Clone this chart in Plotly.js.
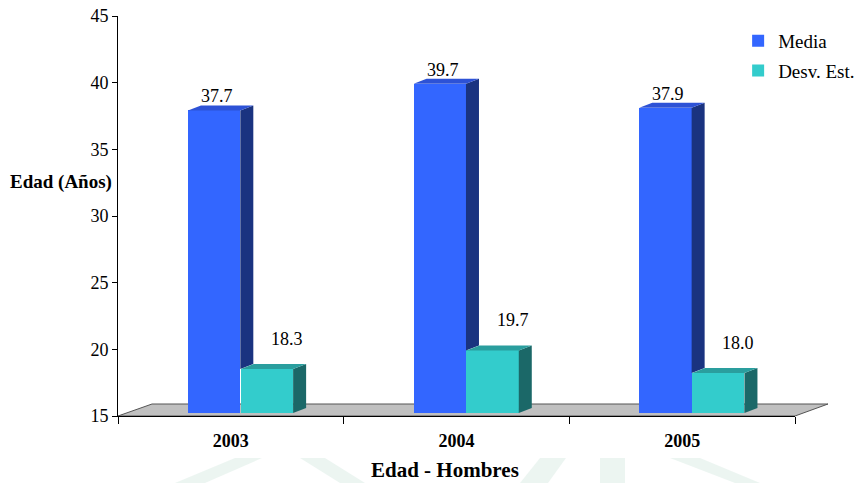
<!DOCTYPE html>
<html>
<head>
<meta charset="utf-8">
<script src="https://cdn.plot.ly/plotly-3.0.1.min.js"></script>
<style>html,body{margin:0;padding:0;background:#fff;}#chart{width:856px;height:483px;}</style>
</head>
<body>
<div id="chart"></div>
<script>
// ---- data ----
const years = ['2003', '2004', '2005'];
const media = [37.7, 39.7, 37.9];
const desvEst = [18.3, 19.7, 18.0];
const seriesNames = ['Media', 'Desv. Est.'];
const yTicks = [15, 20, 25, 30, 35, 40, 45];

// ---- style / geometry constants ----
const FONT = '"Times New Roman", "Liberation Serif", Times, serif';
const Y0 = 15;              // axis floor value
const LIFT = 0.22;          // bars stand slightly inside the floor
const BAR_W = 0.232;        // bar width (category units)
const OFF = [-0.19, 0.044]; // left edge offsets for each series
const DX = 0.0576;          // 3D depth in x (category units)
const DY = 0.375;           // 3D depth in y (value units)
const FRONT = ['#3366FF', '#33CCCC'];
const SIDE = ['#1A3380', '#1B6868'];
const TOP = ['#2D52D6', '#2A9E9E'];

const xs = years.map((_, i) => i);
const series = [media, desvEst];
const traces = [];

// front faces as bars
series.forEach((vals, s) => {
  traces.push({
    type: 'bar', name: seriesNames[s], x: xs,
    y: vals.map(v => v - Y0), base: vals.map(() => Y0 + LIFT),
    width: BAR_W, offset: OFF[s],
    marker: {color: FRONT[s], line: {width: 0}},
    legendgroup: 'g' + s, hoverinfo: 'skip'
  });
});

// 3D side + top faces derived from the data
function poly(px, py, color) {
  return {type: 'scatter', mode: 'lines', x: px, y: py, fill: 'toself',
    fillcolor: color, line: {width: 0, color: color}, showlegend: false, hoverinfo: 'skip'};
}
xs.forEach(i => {
  series.forEach((vals, s) => {
    const xl = i + OFF[s], xr = xl + BAR_W;
    const t = vals[i] + LIFT;
    const b = s === 0 ? desvEst[i] + LIFT : Y0 + LIFT;
    traces.push(poly([xr, xr + DX, xr + DX, xr, xr], [b, b + DY, t + DY, t, b], SIDE[s]));
    traces.push(poly([xl, xl + DX, xr + DX, xr, xl], [t, t + DY, t + DY, t, t], TOP[s]));
  });
});

// value labels
const annotations = [];
xs.forEach(i => {
  annotations.push({x: i + OFF[0] + BAR_W / 2, y: media[i] + LIFT, xref: 'x', yref: 'y',
    text: media[i].toFixed(1), showarrow: false, yanchor: 'bottom', yshift: 2, xshift: 3,
    font: {family: FONT, size: 18, color: '#000'}});
  annotations.push({x: i + OFF[1] + BAR_W / 2, y: desvEst[i] + LIFT, xref: 'x', yref: 'y',
    text: desvEst[i].toFixed(1), showarrow: false, yanchor: 'bottom', yshift: 18, xshift: 20,
    font: {family: FONT, size: 18, color: '#000'}});
});
annotations.push({text: '<b>Edad (Años)</b>', xref: 'paper', yref: 'paper', x: -0.0842, y: 0.585,
  xanchor: 'center', yanchor: 'middle',
  showarrow: false, font: {family: FONT, size: 19, color: '#000'}});
annotations.push({text: '<b>Edad - Hombres</b>', xref: 'paper', yref: 'paper', x: 0.483, y: -0.135,
  xanchor: 'center', yanchor: 'middle',
  showarrow: false, font: {family: FONT, size: 21, color: '#000'}});

// floor and faint watermark (paper coords)
const px = p => (p - 118) / 677, py = p => (416 - p) / 400;
const shapes = [
  {type: 'path', xref: 'paper', yref: 'paper', layer: 'below',
   path: `M ${px(118)} ${py(416)} L ${px(152)} ${py(404)} L ${px(828)} ${py(404)} L ${px(795)} ${py(416)} Z`,
   fillcolor: '#C0C0C0', line: {color: '#555', width: 1}},
];
const wm = [
  [[175,483],[235,458],[262,458],[205,483]],
  [[300,458],[340,483],[365,483],[325,458]],
  [[540,458],[520,483],[548,483],[566,458]],
  [[600,458],[600,483],[625,483],[625,458]],
  [[670,458],[735,483],[760,483],[700,458]],
];
wm.forEach(p => shapes.push({type: 'path', xref: 'paper', yref: 'paper', layer: 'below',
  path: 'M ' + p.map(q => px(q[0]) + ' ' + py(q[1])).join(' L ') + ' Z',
  fillcolor: 'rgba(150,200,175,0.18)', line: {width: 0}}));

const layout = {
  width: 856, height: 483,
  margin: {l: 118, r: 61, t: 16, b: 67, autoexpand: false},
  paper_bgcolor: '#fff', plot_bgcolor: 'rgba(0,0,0,0)',
  font: {family: FONT},
  showlegend: true,
  legend: {x: 0.916, y: 0.985, xanchor: 'left', yanchor: 'top', bgcolor: 'rgba(0,0,0,0)',
    font: {family: FONT, size: 19, color: '#000'}, traceorder: 'grouped', tracegroupgap: 2,
    itemwidth: 30},
  xaxis: {range: [-0.5, 2.5], tickvals: xs, ticktext: years.map(y => '<b>' + y + '</b>'),
    ticks: '', showline: true, linecolor: '#000', linewidth: 1, showgrid: false, zeroline: false,
    tickfont: {family: FONT, size: 18, color: '#000'}, ticklabelstandoff: 8,
    minor: {ticks: 'outside', tick0: -0.5, dtick: 1, ticklen: 7, tickcolor: '#000', showgrid: false},
    fixedrange: true},
  yaxis: {range: [15, 45], tickvals: yTicks, ticks: 'outside', ticklen: 5, tickcolor: '#000',
    showline: true, linecolor: '#000', linewidth: 1, showgrid: false, zeroline: false,
    tickfont: {family: FONT, size: 18, color: '#000'}, fixedrange: true},
  annotations: annotations, shapes: shapes,
  bargap: 0
};
Plotly.newPlot('chart', traces, layout, {displayModeBar: false, staticPlot: true});
</script>
</body>
</html>
